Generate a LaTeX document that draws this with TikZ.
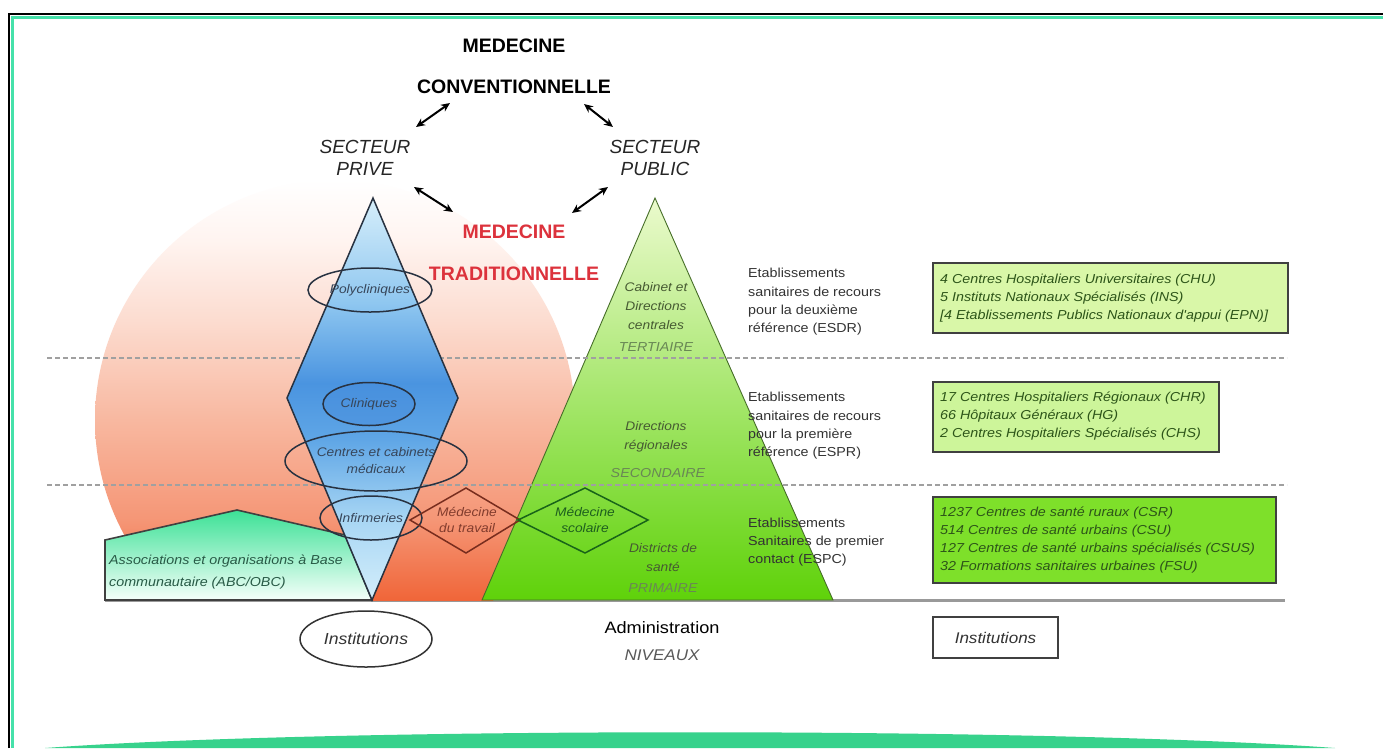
\documentclass[tikz,border=0pt]{standalone}
\usepackage{fontspec}
\setmainfont{Liberation Sans}
\newfontfamily\wsans{Liberation Sans}[FakeStretch=1.1]
\usetikzlibrary{arrows.meta,shapes.geometric}
\definecolor{frameMint}{RGB}{70,225,170}
\definecolor{arcMint}{RGB}{55,210,140}
\definecolor{sA}{RGB}{240,100,55}
\definecolor{sB}{RGB}{245,150,118}
\definecolor{sC}{RGB}{248,184,160}
\definecolor{sD}{RGB}{252,220,208}
\definecolor{sE}{RGB}{255,244,240}
\definecolor{triTop}{RGB}{235,250,205}
\definecolor{triMid}{RGB}{160,232,70}
\definecolor{triBot}{RGB}{95,210,10}
\definecolor{triEdge}{RGB}{70,110,40}
\definecolor{houseTop}{RGB}{60,225,150}
\definecolor{houseBot}{RGB}{245,255,250}
\definecolor{houseTxt}{RGB}{40,90,70}
\definecolor{kA}{RGB}{212,238,251}
\definecolor{kB}{RGB}{168,214,244}
\definecolor{kC}{RGB}{95,166,230}
\definecolor{kD}{RGB}{74,148,224}
\definecolor{kE}{RGB}{143,199,240}
\definecolor{kF}{RGB}{214,238,250}
\definecolor{kiteEdge}{RGB}{40,50,65}
\definecolor{kiteTxt}{RGB}{55,70,90}
\definecolor{cliFill}{RGB}{70,140,220}
\definecolor{tradRed}{RGB}{220,50,60}
\definecolor{triTxt}{RGB}{70,90,50}
\definecolor{lvlTxt}{RGB}{105,135,85}
\definecolor{travEdge}{RGB}{120,45,30}
\definecolor{travTxt}{RGB}{130,60,45}
\definecolor{scolEdge}{RGB}{25,100,25}
\definecolor{scolTxt}{RGB}{30,95,30}
\definecolor{boxA}{RGB}{217,247,168}
\definecolor{boxB}{RGB}{205,245,154}
\definecolor{boxC}{RGB}{126,224,42}
\definecolor{boxTxt}{RGB}{45,85,25}
\definecolor{dashGray}{RGB}{160,160,160}
\pgfdeclareverticalshading{kiteshade}{100bp}{color(0bp)=(kA); color(25bp)=(kA); color(35bp)=(kB); color(45bp)=(kC); color(52bp)=(kD); color(62bp)=(kE); color(75bp)=(kF); color(100bp)=(kF)}
\pgfdeclareverticalshading{salshade}{100bp}{color(0bp)=(sA); color(31bp)=(sA); color(39.6bp)=(sB); color(50bp)=(sC); color(60.4bp)=(sD); color(68.7bp)=(sE); color(75bp)=(white); color(100bp)=(white)}
\begin{document}
\begin{tikzpicture}[x=1pt,y=-1pt,
  dbl/.style={{Stealth[length=9pt,width=8pt]}-{Stealth[length=9pt,width=8pt]}, line width=2pt, black},
  titletxt/.style={font=\fontsize{19.5}{22}\selectfont\bfseries, inner sep=0},
  secttxt/.style={font=\fontsize{19}{22.5}\selectfont\itshape, align=center, inner sep=0, text=black!85},
  ell/.style={ellipse, draw=kiteEdge, line width=1.5pt, inner sep=0, font=\wsans\itshape\fontsize{12.5}{17}\selectfont, text=kiteTxt, align=center},
  kitetxt/.style={font=\wsans\itshape\fontsize{12.5}{16}\selectfont, text=kiteTxt, align=center, inner sep=0},
  tritxt/.style={font=\wsans\itshape\fontsize{12.5}{19}\selectfont, text=triTxt, align=center, inner sep=0},
  lvltxt/.style={font=\wsans\itshape\fontsize{13}{16}\selectfont, text=lvlTxt, inner sep=0},
  lbl/.style={font=\wsans\fontsize{13}{18.3}\selectfont, text=black!80, align=left, anchor=west, inner sep=0},
  boxtxt/.style={font=\wsans\itshape\fontsize{13}{18}\selectfont, text=boxTxt, align=left, anchor=west, inner sep=0},
  infobox/.style={draw=black!75, line width=2.2pt},
  dashline/.style={draw=dashGray, line width=1.6pt, dash pattern=on 5pt off 3pt},
]
\useasboundingbox (0,0) rectangle (1383,748);
\fill[white] (0,0) rectangle (1383,748);

% frame
\draw[frameMint, line width=2.5pt] (12.5,748) -- (12.5,17.5) -- (1383,17.5);
\draw[black, line width=2.8pt] (9,748) -- (9,14) -- (1383,14);
\fill[arcMint] (45,748) .. controls (330,727) and (1050,727) .. (1335,748) -- cycle;

% baseline
\coordinate (bl1) at (105,600);
\coordinate (bl2) at (1285,600);
\draw[black!40, line width=3pt] (bl1) -- (bl2);

% salmon circle
\begin{scope}
\clip (0,0) rectangle (1383,600);
\shade[shading=salshade] (335,420) circle[radius=240];
\end{scope}

% house ABC/OBC
\shadedraw[top color=houseTop, bottom color=houseBot, draw=black!75, line width=1.6pt]
  (105,600) -- (105,540) -- (237,510) -- (345,535) -- (372,600) -- cycle;

% green triangle
\shadedraw[top color=triTop, middle color=triMid, bottom color=triBot, draw=triEdge, line width=0.9pt]
  (655,198) -- (833,600) -- (482,600) -- cycle;

% dashed level lines
\coordinate (d1a) at (47,358); \coordinate (d1b) at (1287,358);
\coordinate (d2a) at (47,485); \coordinate (d2b) at (1287,485);
\draw[dashline] (d1a) -- (d1b);
\draw[dashline] (d2a) -- (d2b);

% blue kite
\shadedraw[shading=kiteshade, draw=kiteEdge, line width=1.5pt]
  (373,198) -- (458,398) -- (372,600) -- (287,398) -- cycle;

% ellipses in kite
\node[ell, minimum width=124pt, minimum height=44pt] (poly) at (370,290) {Polycliniques};
\node[ell, minimum width=92pt, minimum height=43pt, fill=cliFill, fill opacity=0.45, text opacity=1] (clin) at (369,404) {Cliniques};
\node[ell, minimum width=182pt, minimum height=60pt] (cent) at (376,461) {Centres et cabinets\\médicaux};
\node[ell, minimum width=102pt, minimum height=44pt] (infi) at (371,518) {Infirmeries};

% diamonds
\draw[travEdge, line width=1.5pt] (466,488) -- (520,520) -- (466,553) -- (410,520) -- cycle;
\node[kitetxt, text=travTxt] (trav) at (467,520) {Médecine\\du travail};
\draw[scolEdge, line width=1.5pt] (585,488) -- (648,520) -- (585,553) -- (518,520) -- cycle;
\node[kitetxt, text=scolTxt] (scol) at (585,520) {Médecine\\scolaire};

% house text
\node[font=\wsans\itshape\fontsize{13}{22}\selectfont, text=houseTxt, align=left, anchor=west, inner sep=0] (abc) at (109,572) {Associations et organisations à Base\\communautaire (ABC/OBC)};

% titles
\node[titletxt] (mc1) at (514,46) {MEDECINE};
\node[titletxt] (mc2) at (514,87) {CONVENTIONNELLE};
\node[titletxt, text=tradRed] (mt1) at (514,232) {MEDECINE};
\node[titletxt, text=tradRed] (mt2) at (514,274) {TRADITIONNELLE};
\node[secttxt] (spriv) at (365,158) {SECTEUR\\PRIVE};
\node[secttxt] (spub) at (655,158) {SECTEUR\\PUBLIC};

% arrows
\coordinate (a1s) at (416,127); \coordinate (a1e) at (450,103);
\coordinate (a2s) at (584,104); \coordinate (a2e) at (613,127);
\coordinate (a3s) at (414,187); \coordinate (a3e) at (453,212);
\coordinate (a4s) at (572,213); \coordinate (a4e) at (608,187);
\draw[dbl] (a1s) -- (a1e);
\draw[dbl] (a2s) -- (a2e);
\draw[dbl] (a3s) -- (a3e);
\draw[dbl] (a4s) -- (a4e);

% triangle texts
\node[tritxt] (t1) at (656,306) {Cabinet et\\Directions\\centrales};
\node[lvltxt] (t1l) at (656,347) {TERTIAIRE};
\node[tritxt] (t2) at (656,437) {Directions\\régionales};
\node[lvltxt] (t2l) at (658,473) {SECONDAIRE};
\node[tritxt] (t3) at (663,558) {Districts de\\santé};
\node[lvltxt] (t3l) at (663,588) {PRIMAIRE};

% right labels
\node[lbl] (l1) at (748,302) {Etablissements\\sanitaires de recours\\pour la deuxième\\référence (ESDR)};
\node[lbl] (l2) at (748,426) {Etablissements\\sanitaires de recours\\pour la première\\référence (ESPR)};
\node[lbl] (l3) at (748,542) {Etablissements\\Sanitaires de premier\\contact (ESPC)};

% info boxes
\filldraw[infobox, fill=boxA] (933,263) rectangle (1288,333);
\node[boxtxt] (b1) at (940,298) {4 Centres Hospitaliers Universitaires (CHU)\\5 Instituts Nationaux Spécialisés (INS)\\{[}4 Etablissements Publics Nationaux d'appui (EPN){]}};
\filldraw[infobox, fill=boxB] (933,382) rectangle (1219,452);
\node[boxtxt] (b2) at (940,416) {17 Centres Hospitaliers Régionaux (CHR)\\66 Hôpitaux Généraux (HG)\\2 Centres Hospitaliers Spécialisés (CHS)};
\filldraw[infobox, fill=boxC] (933,497) rectangle (1276,583);
\node[boxtxt] (b3) at (940,540) {1237 Centres de santé ruraux (CSR)\\514 Centres de santé urbains (CSU)\\127 Centres de santé urbains spécialisés (CSUS)\\32 Formations sanitaires urbaines (FSU)};

% bottom legend
\node[ellipse, draw=black!80, line width=1.5pt, minimum width=132pt, minimum height=56pt, inner sep=0, font=\wsans\itshape\fontsize{16}{18}\selectfont, text=black!80] (inst1) at (366,639) {Institutions};
\node[font=\wsans\fontsize{16.5}{19}\selectfont, inner sep=0] (adm) at (662,628) {Administration};
\node[font=\wsans\itshape\fontsize{15.5}{18}\selectfont, text=black!65, inner sep=0] (niv) at (662,655) {NIVEAUX};
\node[draw=black!75, line width=1.8pt, minimum width=125pt, minimum height=41pt, inner sep=0, font=\wsans\itshape\fontsize{15.5}{18}\selectfont, text=black!80] (inst2) at (995.5,637.5) {Institutions};
\end{tikzpicture}
\end{document}
